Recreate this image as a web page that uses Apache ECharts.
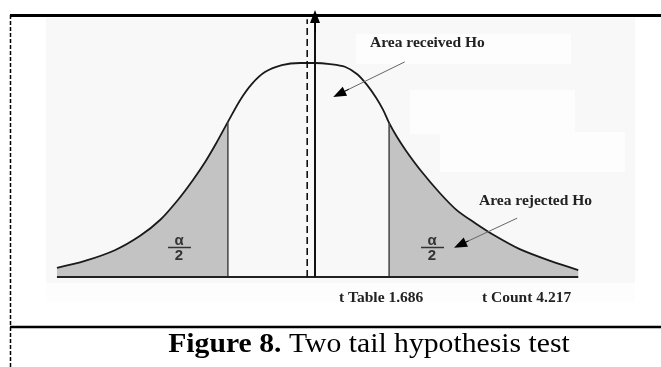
<!DOCTYPE html>
<html>
<head>
<meta charset="utf-8">
<title>Two tail hypothesis test</title>
<script src="https://cdn.jsdelivr.net/npm/echarts@6/dist/echarts.min.js"></script>
<style>
  html, body { margin: 0; padding: 0; background: #fff; }
  #main { width: 661px; height: 367px; }
</style>
</head>
<body>
<div id="main"></div>
<script>
// curve (t units, density)
var curveT = [-3.97, -3.54, -3.08, -2.69, -2.38, -2.11, -1.88, -1.69, -1.52, -1.34, -1.15, -0.97, -0.77, -0.51, -0.23, 0,
              0.23, 0.46, 0.65, 0.80, 0.94, 1.05, 1.14, 1.26, 1.40, 1.62, 1.92, 2.18, 2.46, 2.77, 3.15, 3.62, 4.05];
var curveY = [0.017, 0.030, 0.050, 0.077, 0.107, 0.144, 0.181, 0.215, 0.250, 0.290, 0.331, 0.361, 0.383, 0.396, 0.400, 0.400,
              0.398, 0.393, 0.379, 0.359, 0.335, 0.312, 0.288, 0.262, 0.236, 0.200, 0.157, 0.125, 0.101, 0.077, 0.052, 0.030, 0.013];
var critT = [-1.34, 1.14];
var critY = [0.290, 0.288];
var meanLineT = -0.12;   // dashed line
var axisTop = 0.487;
var labels = ['Area received Ho', 'Area rejected Ho', 't Table 1.686', 't Count 4.217'];
// annotation arrows: [from, to]
var arrows = [
    [[1.38, 0.402], [0.37, 0.342]],
    [[3.11, 0.110], [2.23, 0.060]]
];

var curve = [];
for (var i = 0; i < curveT.length; i++) {
    curve.push([curveT[i], curveY[i]]);
}
var leftTail = curve.filter(function (p) { return p[0] <= critT[0]; });
var rightTail = curve.filter(function (p) { return p[0] >= critT[1]; });

var chart = echarts.init(document.getElementById('main'));

var serif = '"Liberation Serif", "Times New Roman", serif';
var sans = '"Liberation Sans", Arial, sans-serif';

function alphaHalf(cx) {
    return [
        { type: 'text', z: 100, style: { x: cx, y: 241, text: 'α', font: 'bold 15px ' + sans, fill: '#333', align: 'center', verticalAlign: 'middle' } },
        { type: 'line', z: 100, shape: { x1: cx - 11, y1: 247.5, x2: cx + 12, y2: 247.5 }, style: { stroke: '#333', lineWidth: 1.5 } },
        { type: 'text', z: 100, style: { x: cx, y: 256, text: '2', font: 'bold 15px ' + sans, fill: '#333', align: 'center', verticalAlign: 'middle' } }
    ];
}

var tailStyle = {
    type: 'line', smooth: 0.3, symbol: 'none', silent: true,
    lineStyle: { width: 0 },
    areaStyle: { color: '#c3c3c3', opacity: 1 }
};

// grey shafts + short black heads
var shafts = [], heads = [];
arrows.forEach(function (a) {
    shafts.push([{ coord: a[0] }, { coord: a[1] }]);
    var s = [a[1][0] + (a[0][0] - a[1][0]) * 0.15, a[1][1] + (a[0][1] - a[1][1]) * 0.15];
    heads.push([{ coord: s }, { coord: a[1] }]);
});
heads.push([{ coord: [0, axisTop - 0.03] }, { coord: [0, axisTop] }]);

var option = {
    animation: false,
    backgroundColor: '#fff',
    grid: { left: 55, top: 9.5, width: 526.5, height: 267.5 },
    xAxis: { type: 'value', min: -4, max: 4.1, show: false },
    yAxis: { type: 'value', min: 0, max: 0.5, show: false },
    graphic: [
        { type: 'rect', z: 0, shape: { x: 46, y: 18, width: 589, height: 284 }, style: { fill: '#f8f8f8' } },
        { type: 'rect', z: 0, shape: { x: 356, y: 34, width: 215, height: 30 }, style: { fill: '#fdfdfd' } },
        { type: 'rect', z: 0, shape: { x: 410, y: 90, width: 165, height: 44 }, style: { fill: '#fdfdfd' } },
        { type: 'rect', z: 0, shape: { x: 440, y: 132, width: 185, height: 40 }, style: { fill: '#fdfdfd' } },
        { type: 'rect', z: 0, shape: { x: 46, y: 283, width: 589, height: 19 }, style: { fill: '#fdfdfd' } },
        { type: 'line', shape: { x1: 10, y1: 15.5, x2: 661, y2: 15.5 }, style: { stroke: '#000', lineWidth: 3 } },
        { type: 'line', shape: { x1: 10.5, y1: 15, x2: 10.5, y2: 367 }, style: { stroke: '#000', lineWidth: 1.5, lineDash: [4, 2] } },
        { type: 'line', shape: { x1: 10, y1: 327, x2: 661, y2: 327 }, style: { stroke: '#000', lineWidth: 2.5 } },
        { type: 'text', z: 100, style: { x: 370, y: 43, text: labels[0], font: 'bold 15.5px ' + serif, fill: '#222', verticalAlign: 'middle' } },
        { type: 'text', z: 100, style: { x: 479, y: 201, text: labels[1], font: 'bold 15.5px ' + serif, fill: '#222', verticalAlign: 'middle' } },
        { type: 'text', z: 100, style: { x: 339, y: 298, text: labels[2], font: 'bold 15.5px ' + serif, fill: '#222', verticalAlign: 'middle' } },
        { type: 'text', z: 100, style: { x: 482, y: 298, text: labels[3], font: 'bold 15.5px ' + serif, fill: '#222', verticalAlign: 'middle' } },
        {
            type: 'text', z: 100, x: 369, y: 345, scaleX: 1.1,
            style: {
                x: 0, y: 0, align: 'center', verticalAlign: 'middle',
                text: '{b|Figure 8.} Two tail hypothesis test',
                font: '27px ' + serif, fill: '#000',
                rich: { b: { font: 'bold 27px ' + serif, fill: '#000' } }
            }
        }
    ].concat(alphaHalf(179)).concat(alphaHalf(432)),
    series: [
        Object.assign({ data: leftTail }, tailStyle),
        Object.assign({ data: rightTail }, tailStyle),
        {
            type: 'line', smooth: 0.3, symbol: 'none', silent: true,
            data: curve,
            lineStyle: { color: '#1a1a1a', width: 1.8 }
        },
        {
            type: 'line', symbol: 'none', silent: true,
            data: [[critT[0], 0], [critT[0], critY[0]]],
            lineStyle: { color: '#444', width: 1.5 }
        },
        {
            type: 'line', symbol: 'none', silent: true,
            data: [[critT[1], 0], [critT[1], critY[1]]],
            lineStyle: { color: '#444', width: 1.5 }
        },
        {
            type: 'line', symbol: 'none', silent: true,
            data: [[curveT[0], 0], [curveT[curveT.length - 1], 0]],
            lineStyle: { color: '#222', width: 2 }
        },
        {
            type: 'line', symbol: 'none', silent: true,
            data: [[meanLineT, 0], [meanLineT, 0.482]],
            lineStyle: { color: '#111', width: 1.6, type: [7, 4] }
        },
        {
            type: 'line', symbol: 'none', silent: true,
            data: [[0, 0], [0, axisTop - 0.01]],
            lineStyle: { color: '#111', width: 2 },
            markLine: {
                silent: true,
                symbol: ['none', 'none'],
                label: { show: false },
                lineStyle: { color: '#666', width: 1, type: 'solid' },
                data: shafts
            }
        },
        {
            type: 'line', symbol: 'none', silent: true, data: [],
            markLine: {
                silent: true,
                symbol: ['none', 'triangle'],
                symbolSize: [10, 13],
                label: { show: false },
                lineStyle: { color: '#000', width: 1, type: 'solid' },
                data: heads
            }
        }
    ]
};

chart.setOption(option);
</script>
</body>
</html>
